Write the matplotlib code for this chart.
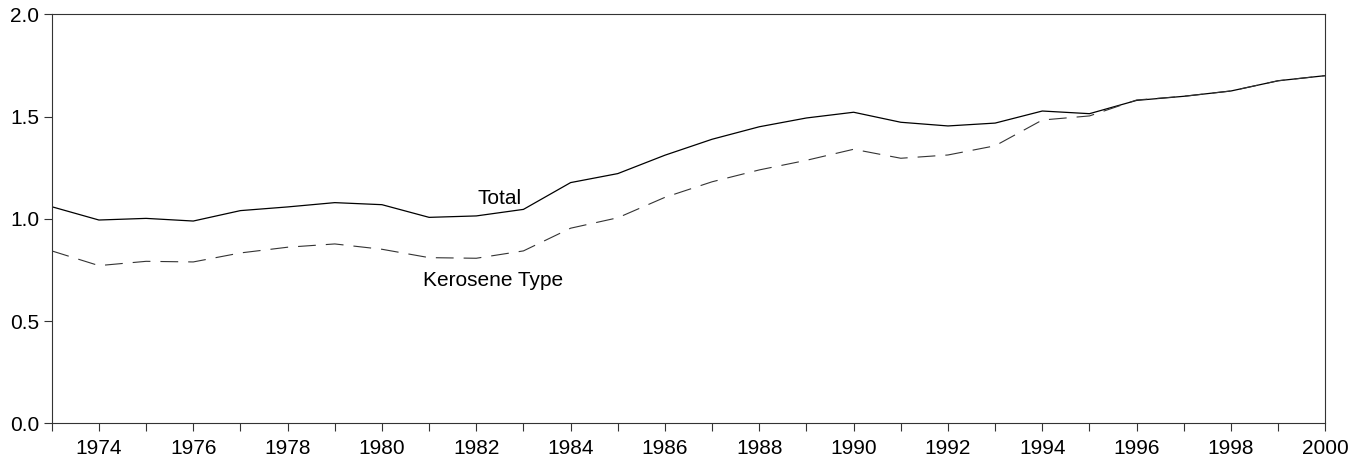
import matplotlib
matplotlib.use("Agg")
import matplotlib.pyplot as plt

years = list(range(1973, 2001))
total = [1.059, 0.994, 1.002, 0.989, 1.040, 1.058, 1.079, 1.069, 1.007, 1.014,
         1.046, 1.177, 1.221, 1.311, 1.389, 1.450, 1.493, 1.521, 1.472, 1.454,
         1.468, 1.527, 1.514, 1.579, 1.599, 1.625, 1.675, 1.700]
kerosene = [0.843, 0.771, 0.792, 0.789, 0.833, 0.861, 0.877, 0.851, 0.810, 0.807,
            0.843, 0.954, 1.005, 1.105, 1.181, 1.239, 1.286, 1.340, 1.296, 1.312,
            1.357, 1.483, 1.503, 1.581, 1.599, 1.625, 1.675, 1.700]
yticks = [0.0, 0.5, 1.0, 1.5, 2.0]

plt.rcParams['font.family'] = ['Liberation Sans', 'DejaVu Sans']
fs = 15

fig = plt.figure(figsize=(13.69, 4.61), dpi=100)
ax = fig.add_axes([0.0378, 0.0818, 0.9303, 0.8872])

ax.plot(years, total, color='black', lw=0.9)
ax.plot(years, kerosene, color='#333333', lw=0.8, dashes=(16, 9))

ax.text(1982.5, 1.10, 'Total', fontsize=fs, ha='center', va='center')
ax.text(1982.35, 0.70, 'Kerosene Type', fontsize=fs, ha='center', va='center')

ax.set_xlim(1973, 2000)
ax.set_ylim(0, 2.0)
ax.set_xticks(years)
ax.set_xticklabels([str(y) if y % 2 == 0 else '' for y in years])
ax.set_yticks(yticks)
ax.set_yticklabels(['%.1f' % v for v in yticks])
ax.tick_params(direction='out', length=6, width=0.8, labelsize=fs, color='#333333')
ax.tick_params(axis='x', pad=5)
ax.tick_params(axis='y', pad=3)
for s in ax.spines.values():
    s.set_linewidth(0.8)
    s.set_color('#333333')

fig.savefig('out.png', dpi=100)
